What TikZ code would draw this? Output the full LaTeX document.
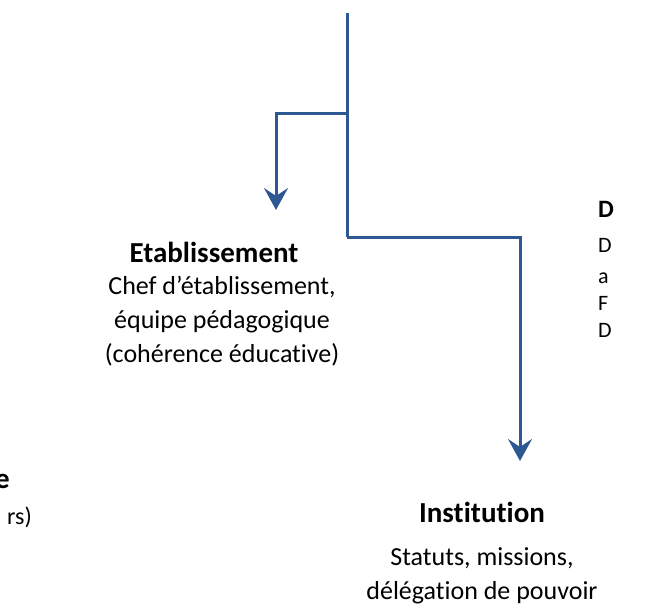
\documentclass[tikz,border=0pt]{standalone}
\usepackage{fontspec}
\setmainfont{Carlito}[Ligatures={NoCommon}]
\usetikzlibrary{arrows.meta}
\definecolor{linkblue}{RGB}{46,88,145}
\tikzset{
  link/.style={draw=linkblue, line width=3pt},
  arr/.style={link, -{Stealth[length=22pt, width=24pt, inset=8pt]}},
  ttl/.style={font=\fontsize{29}{33}\selectfont\bfseries, inner sep=0pt, anchor=base},
  dsc/.style={font=\fontsize{26}{34}\selectfont, inner sep=0pt, align=center, anchor=base},
  edge/.style={font=\fontsize{22}{28}\selectfont, inner sep=0pt, anchor=base west},
}
\begin{document}
\begin{tikzpicture}[x=1pt,y=-1pt]
\useasboundingbox (0,0) rectangle (647,614);
\clip (0,0) rectangle (647,614);
% connectors
\coordinate (top) at (347,13);
\coordinate (j1) at (347,113);
\coordinate (j2) at (347,237);
\coordinate (etabin) at (276,210);
\coordinate (instin) at (520,461);
\draw[link] (top) -- (j2);
\draw[arr] (j1) -| (etabin);
\draw[arr] (j2) -| (instin);
% Etablissement (anchor base = baseline of last line)
\node[ttl] (etabt) at (214,262) {Etablissement};
\node[dsc] (etabd) at (222,362) {Chef d'établissement,\\équipe pédagogique\\(cohérence éducative)};
% Institution
\node[ttl] (instt) at (482,522) {Institution};
\node[dsc] (instd) at (482,599) {Statuts, missions,\\délégation de pouvoir};
% clipped neighbours
\node[font=\fontsize{29}{33}\selectfont\bfseries, inner sep=0pt, anchor=base east] (leftt) at (10,488) {e};
\node[font=\fontsize{24}{28}\selectfont, inner sep=0pt, anchor=base east] (leftd) at (32,524) {rs)};
\node[edge, font=\fontsize{25}{28}\selectfont\bfseries] (rightt) at (598,217) {D};
\node[edge] (r1) at (598,252) {D};
\node[edge] (r2) at (598,283) {a};
\node[edge] (r3) at (598,310) {F};
\node[edge] (r4) at (598,337) {D};
\end{tikzpicture}
\end{document}
